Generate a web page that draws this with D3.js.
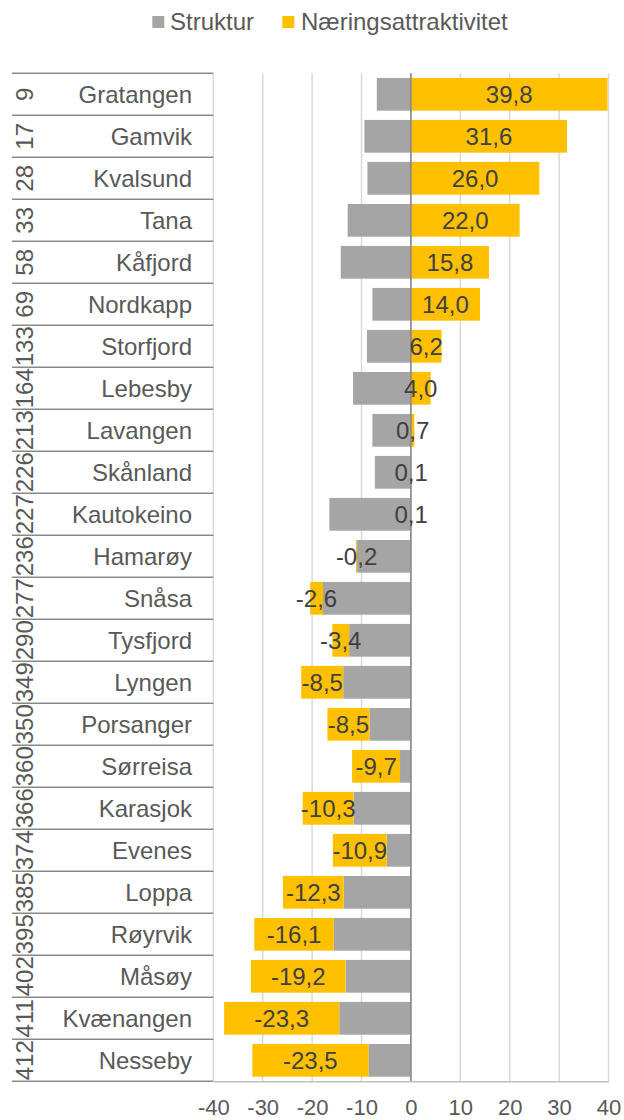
<!DOCTYPE html>
<html>
<head>
<meta charset="utf-8">
<script src="https://cdn.jsdelivr.net/npm/d3@7"></script>
<style>
  html, body { margin: 0; padding: 0; background: #ffffff; }
  svg { display: block; }
  text { font-family: "Liberation Sans", Arial, sans-serif; }
</style>
</head>
<body>
<svg id="chart" width="624" height="1120"></svg>
<script>
// ---- Data ----
const ranks = [9, 17, 28, 33, 58, 69, 133, 164, 213, 226, 227, 236, 277, 290, 349, 350, 360, 366, 374, 385, 395, 402, 411, 412];
const names = ["Gratangen", "Gamvik", "Kvalsund", "Tana", "Kåfjord", "Nordkapp", "Storfjord", "Lebesby", "Lavangen", "Skånland", "Kautokeino", "Hamarøy", "Snåsa", "Tysfjord", "Lyngen", "Porsanger", "Sørreisa", "Karasjok", "Evenes", "Loppa", "Røyrvik", "Måsøy", "Kvænangen", "Nesseby"];
const struktur = [-6.9, -9.4, -8.8, -12.8, -14.2, -7.8, -8.9, -11.7, -7.8, -7.3, -16.5, -10.9, -17.8, -12.5, -13.7, -8.4, -2.2, -11.6, -4.9, -13.6, -15.6, -13.2, -14.5, -8.6];
const naering = [39.8, 31.6, 26.0, 22.0, 15.8, 14.0, 6.2, 4.0, 0.7, 0.1, 0.1, -0.2, -2.6, -3.4, -8.5, -8.5, -9.7, -10.3, -10.9, -12.3, -16.1, -19.2, -23.3, -23.5];
const seriesNames = ["Struktur", "Næringsattraktivitet"];
const xTicks = [-40, -30, -20, -10, 0, 10, 20, 30, 40];

// ---- Build table ----
const rows = names.map((n, i) => ({ name: n, rank: ranks[i], Struktur: struktur[i], "Næringsattraktivitet": naering[i] }));
const stack = d3.stack().keys(seriesNames).offset(d3.stackOffsetDiverging);
const layers = stack(rows);

const colors = { "Struktur": "#a5a5a5", "Næringsattraktivitet": "#ffc000" };
const textColor = "#595959";
const FS = 24;
const fmt = v => d3.format(".1f")(v).replace("\u2212", "-").replace(".", ",");

const svg = d3.select("#chart");
const plotLeft = 213.3, plotRight = 608.5, plotTop = 73.3, plotBottom = 1081.3;

const x = d3.scaleLinear().domain([-40, 40]).range([plotLeft, plotRight]);
const y = d3.scaleBand().domain(names).range([plotTop, plotBottom]).paddingInner(0.22).paddingOuter(0.11);
const step = y.step();
const rowTop = n => plotTop + names.indexOf(n) * step;

// gridlines
svg.append("g").selectAll("line").data(xTicks).join("line")
  .attr("x1", d => x(d)).attr("x2", d => x(d))
  .attr("y1", plotTop).attr("y2", plotBottom)
  .attr("stroke", "#d9d9d9").attr("stroke-width", 1.5);

// bars
svg.append("g").selectAll("g").data(layers).join("g")
  .attr("fill", d => colors[d.key])
  .selectAll("rect").data(d => d).join("rect")
  .attr("x", d => x(Math.min(d[0], d[1])))
  .attr("width", d => Math.abs(x(d[1]) - x(d[0])))
  .attr("y", d => y(d.data.name))
  .attr("height", y.bandwidth());

// zero axis
svg.append("line")
  .attr("x1", x(0)).attr("x2", x(0)).attr("y1", plotTop).attr("y2", plotBottom)
  .attr("stroke", "#868686").attr("stroke-width", 1.5);

// bottom axis
const xAxis = d3.axisBottom(x).tickValues(xTicks).tickSize(0).tickPadding(0).tickFormat(d => String(d));
const gx = svg.append("g").attr("transform", `translate(0,${plotBottom})`).call(xAxis);
gx.select(".domain").attr("stroke", "#bfbfbf").attr("stroke-width", 1.5);
gx.selectAll("text").attr("fill", textColor).attr("font-size", 22)
  .attr("font-family", '"Liberation Sans", Arial, sans-serif')
  .attr("dy", null).attr("y", 33.5);

// category axis lines (left)
const boundaries = d3.range(names.length + 1).map(i => plotTop + i * step);
svg.append("g").selectAll("line").data(boundaries).join("line")
  .attr("x1", 12).attr("x2", plotLeft)
  .attr("y1", d => d).attr("y2", d => d)
  .attr("stroke", "#898989").attr("stroke-width", 1.5);

// category names
svg.append("g").selectAll("text").data(rows).join("text")
  .attr("x", 192)
  .attr("y", d => rowTop(d.name) + step / 2)
  .attr("dy", "0.35em")
  .attr("text-anchor", "end")
  .attr("font-size", FS)
  .attr("fill", textColor)
  .text(d => d.name);

// rank numbers (rotated)
svg.append("g").selectAll("text").data(rows).join("text")
  .attr("transform", d => `translate(33,${rowTop(d.name) + step / 2}) rotate(-90)`)
  .attr("text-anchor", "middle")
  .attr("font-size", FS)
  .attr("fill", textColor)
  .text(d => d.rank);

// value labels (centered in yellow segment)
const yellow = layers[1];
svg.append("g").selectAll("text").data(yellow).join("text")
  .attr("x", d => (x(d[0]) + x(d[1])) / 2)
  .attr("y", d => y(d.data.name) + y.bandwidth() / 2)
  .attr("dy", "0.35em")
  .attr("text-anchor", "middle")
  .attr("font-size", FS)
  .attr("fill", "#404040")
  .text(d => fmt(d.data["Næringsattraktivitet"]));

// legend
const legend = svg.append("g");
const legendItems = [
  { key: "Struktur", sx: 152.3, tx: 170 },
  { key: "Næringsattraktivitet", sx: 282.3, tx: 301 }
];
legend.selectAll("rect").data(legendItems).join("rect")
  .attr("x", d => d.sx).attr("y", 16).attr("width", 12).attr("height", 12)
  .attr("fill", d => colors[d.key]);
legend.selectAll("text").data(legendItems).join("text")
  .attr("x", d => d.tx).attr("y", 22).attr("dy", "0.35em")
  .attr("font-size", FS).attr("fill", textColor)
  .text(d => d.key);
</script>
</body>
</html>
